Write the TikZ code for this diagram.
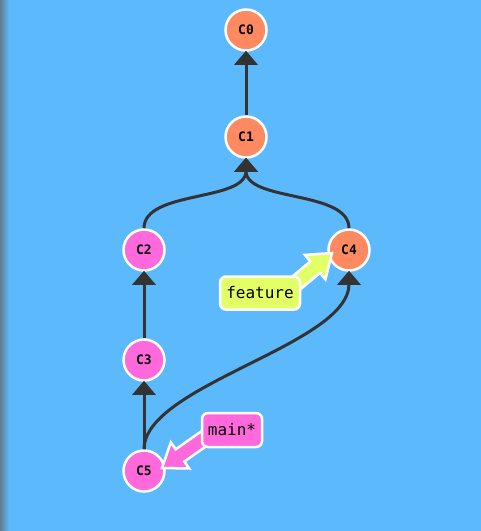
\documentclass[tikz,border=0pt]{standalone}
\usepackage{fontspec}
\newfontfamily\monof{DejaVu Sans Mono}
\usetikzlibrary{arrows.meta}
\definecolor{bg}{HTML}{5CB9FB}
\definecolor{corange}{HTML}{FF8A62}
\definecolor{cpink}{HTML}{FF69DB}
\definecolor{cyel}{HTML}{E3FF66}
\definecolor{edgec}{HTML}{333333}
\tikzset{
  commit/.style={circle, draw=white, line width=2.5pt, minimum size=41pt, inner sep=0pt, font=\monof\bfseries\fontsize{13}{13}\selectfont, text=black},
  orangec/.style={commit, fill=corange},
  pinkc/.style={commit, fill=cpink},
  edge/.style={draw=edgec, line width=3pt, -{Triangle[width=23pt,length=14pt]}, shorten >=-1pt},
  label/.style={rounded corners=6pt, draw=white, line width=2.5pt, font=\monof\fontsize{16}{16}\selectfont, inner sep=0pt, text=black},
  fatarrow/.style={draw=white, line width=2.5pt, line join=miter}
}
\begin{document}
\begin{tikzpicture}[x=1pt,y=-1pt]
\fill[bg] (0,0) rectangle (481,531);
\useasboundingbox (0,0) rectangle (481,531);
\shade[left color=bg!35!gray!85!black, right color=bg] (0,0) rectangle (9,531);

\node[orangec] (C0) at (246,30) {C0};
\node[orangec] (C1) at (246,137) {C1};
\node[pinkc] (C2) at (144,250) {C2};
\node[orangec] (C4) at (349,250) {C4};
\node[pinkc] (C3) at (144,360) {C3};
\node[pinkc] (C5) at (144,471) {C5};

\draw[edge] (C1.north) -- (C0.south);
\draw[edge] (C2.north) .. controls (144,190) and (246,202) .. (C1.south);
\draw[edge] (C4.north) .. controls (349,190) and (246,202) .. (C1.south);
\draw[edge] (C3.north) -- (C2.south);
\draw[edge] (C5.north) -- (C3.south);
\draw[edge] (C5.north) .. controls (144,385) and (349,345) .. (C4.south);

% feature pointer
\begin{scope}[shift={(332,253)}, rotate=40]
  \filldraw[fatarrow, fill=cyel] (0,0) -- (-22,16) -- (-22,7.5) -- (-55,7.5) -- (-55,-7.5) -- (-22,-7.5) -- (-22,-16) -- cycle;
\end{scope}
% main pointer
\begin{scope}[shift={(162,468)}, rotate=215]
  \filldraw[fatarrow, fill=cpink] (0,0) -- (-22,16) -- (-22,7.5) -- (-55,7.5) -- (-55,-7.5) -- (-22,-7.5) -- (-22,-16) -- cycle;
\end{scope}

\node[label, fill=cyel, minimum width=80pt, minimum height=33pt] (feature) at (260,293) {feature};
\node[label, fill=cpink, minimum width=60pt, minimum height=34pt] (main) at (232,430) {main*};
\end{tikzpicture}
\end{document}
